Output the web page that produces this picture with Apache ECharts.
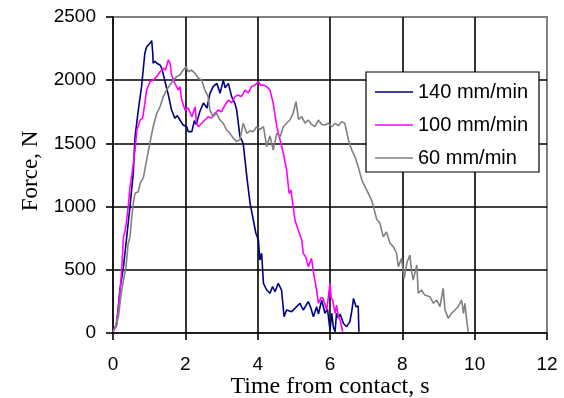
<!DOCTYPE html>
<html>
<head>
<meta charset="utf-8">
<script src="https://cdn.jsdelivr.net/npm/echarts@6/dist/echarts.min.js"></script>
<style>
  html, body { margin: 0; padding: 0; background: #fff; }
  #chart { width: 564px; height: 398px; }
</style>
</head>
<body>
<div id="chart"></div>
<script>
// Force vs. time for three crosshead speeds
const seriesNames = ['140 mm/min', '100 mm/min', '60 mm/min'];
const xTicks = [0, 2, 4, 6, 8, 10, 12];
const yTicks = [0, 500, 1000, 1500, 2000, 2500];

const t140 = [0, 0.1, 0.19, 0.29, 0.38, 0.47, 0.56, 0.61, 0.7, 0.79, 0.88, 0.93, 1.02, 1.07, 1.1, 1.11, 1.16, 1.21, 1.3, 1.35, 1.44, 1.53, 1.62, 1.71, 1.78, 1.85, 1.94, 2.04, 2.08, 2.18, 2.25, 2.3, 2.4, 2.5, 2.6, 2.68, 2.77, 2.87, 2.96, 3.05, 3.1, 3.19, 3.28, 3.37, 3.42, 3.51, 3.6, 3.65, 3.7, 3.79, 3.88, 3.95, 4.02, 4.06, 4.11, 4.16, 4.25, 4.34, 4.41, 4.48, 4.57, 4.66, 4.73, 4.8, 4.94, 5.03, 5.17, 5.26, 5.4, 5.47, 5.54, 5.63, 5.68, 5.77, 5.86, 5.93, 6.0, 6.05, 6.09, 6.14, 6.18, 6.23, 6.28, 6.37, 6.46, 6.55, 6.6, 6.65, 6.72, 6.78, 6.8];
const f140 = [10, 63, 340, 525, 762, 1000, 1263, 1553, 1764, 1949, 2213, 2265, 2292, 2313, 2213, 2134, 2150, 2134, 2120, 2094, 1988, 1883, 1764, 1699, 1720, 1685, 1646, 1632, 1593, 1593, 1680, 1650, 1750, 1820, 1780, 1896, 1949, 1975, 1896, 2001, 1940, 1975, 1870, 1817, 1764, 1553, 1500, 1369, 1237, 1026, 894, 789, 736, 578, 631, 393, 340, 314, 366, 327, 393, 340, 129, 182, 169, 195, 235, 182, 248, 200, 129, 208, 150, 261, 156, 190, 24, 156, 50, 10, 156, 120, 150, 77, 50, 90, 169, 274, 208, 214, 10];

const t100 = [0, 0.08, 0.15, 0.24, 0.29, 0.33, 0.38, 0.42, 0.47, 0.52, 0.61, 0.66, 0.75, 0.82, 0.88, 0.93, 1.02, 1.11, 1.21, 1.3, 1.39, 1.45, 1.53, 1.58, 1.62, 1.71, 1.81, 1.85, 1.9, 1.99, 2.08, 2.18, 2.27, 2.31, 2.36, 2.45, 2.54, 2.63, 2.72, 2.82, 2.91, 3.0, 3.1, 3.19, 3.28, 3.37, 3.46, 3.55, 3.65, 3.74, 3.83, 3.93, 4.02, 4.08, 4.16, 4.25, 4.34, 4.39, 4.43, 4.53, 4.62, 4.71, 4.8, 4.87, 4.92, 4.98, 5.03, 5.12, 5.22, 5.26, 5.33, 5.4, 5.49, 5.54, 5.63, 5.68, 5.75, 5.81, 5.91, 5.96, 6.0, 6.03, 6.07, 6.14, 6.18, 6.23, 6.28, 6.35];
const f100 = [10, 60, 182, 498, 762, 801, 894, 1000, 1157, 1250, 1448, 1606, 1685, 1700, 1817, 1922, 1988, 2001, 2028, 2067, 2094, 2080, 2160, 2134, 2041, 1975, 1922, 1950, 1843, 1764, 1780, 1711, 1790, 1659, 1632, 1659, 1685, 1711, 1700, 1738, 1764, 1750, 1804, 1843, 1820, 1870, 1883, 1870, 1922, 1900, 1949, 1962, 1988, 1960, 1962, 1949, 1922, 1909, 1817, 1632, 1527, 1422, 1290, 1105, 1130, 1000, 894, 815, 736, 631, 600, 525, 591, 485, 340, 235, 280, 274, 182, 300, 393, 280, 261, 156, 221, 130, 103, 10];

const t60 = [0, 0.08, 0.15, 0.22, 0.29, 0.36, 0.42, 0.47, 0.52, 0.56, 0.61, 0.7, 0.75, 0.84, 0.93, 1.02, 1.11, 1.21, 1.3, 1.39, 1.48, 1.57, 1.67, 1.76, 1.85, 1.94, 2.02, 2.08, 2.17, 2.27, 2.36, 2.45, 2.54, 2.63, 2.68, 2.77, 2.86, 2.96, 3.05, 3.14, 3.23, 3.33, 3.42, 3.51, 3.6, 3.7, 3.79, 3.88, 3.97, 4.06, 4.16, 4.25, 4.34, 4.43, 4.53, 4.62, 4.71, 4.8, 4.89, 4.98, 5.06, 5.13, 5.22, 5.31, 5.4, 5.49, 5.58, 5.68, 5.77, 5.86, 5.95, 6.05, 6.14, 6.23, 6.32, 6.41, 6.51, 6.6, 6.69, 6.78, 6.88, 6.97, 7.06, 7.15, 7.2, 7.29, 7.38, 7.47, 7.56, 7.66, 7.75, 7.84, 7.89, 7.98, 8.05, 8.13, 8.21, 8.26, 8.3, 8.4, 8.44, 8.53, 8.62, 8.76, 8.86, 8.95, 9.04, 9.13, 9.18, 9.27, 9.36, 9.45, 9.54, 9.64, 9.69, 9.73, 9.78, 9.82];
const f60 = [10, 60, 129, 300, 419, 525, 710, 760, 920, 1026, 1105, 1118, 1184, 1230, 1369, 1501, 1632, 1738, 1790, 1870, 1922, 1960, 2001, 2028, 2041, 2081, 2107, 2067, 2080, 2054, 2015, 2001, 1922, 1870, 1764, 1711, 1740, 1685, 1659, 1606, 1580, 1540, 1514, 1530, 1659, 1580, 1600, 1593, 1632, 1610, 1632, 1474, 1560, 1448, 1580, 1553, 1632, 1659, 1685, 1738, 1830, 1690, 1711, 1660, 1685, 1650, 1632, 1685, 1650, 1646, 1660, 1632, 1659, 1640, 1672, 1659, 1527, 1448, 1395, 1316, 1210, 1157, 1105, 1052, 1000, 900, 868, 762, 800, 710, 683, 631, 525, 591, 433, 560, 617, 480, 419, 538, 314, 340, 300, 287, 235, 260, 208, 353, 182, 116, 156, 180, 208, 261, 156, 235, 103, 10];

const colors = ['#000080', '#ff00ff', '#808080'];

function pairs(ts, fs) {
  return ts.map((t, i) => [t, fs[i]]);
}

const sansFont = '"Liberation Sans", Arial, sans-serif';
const serifFont = '"Liberation Serif", "Times New Roman", serif';

const axisCommon = {
  type: 'value',
  axisLine: { show: true, lineStyle: { color: '#000', width: 1.6 } },
  axisTick: { show: true, inside: false, length: 7, lineStyle: { color: '#000', width: 1.6 } },
  splitLine: { show: true, showMinLine: false, showMaxLine: false, lineStyle: { color: '#000', width: 1.6 } },
  nameLocation: 'middle',
  nameMoveOverlap: false
};

const chart = echarts.init(document.getElementById('chart'), null, { renderer: 'canvas' });

chart.setOption({
  animation: false,
  backgroundColor: '#fff',
  color: colors,
  grid: {
    left: 113, right: 17, top: 17, bottom: 65,
    containLabel: false, outerBoundsMode: 'none',
    show: true, borderColor: '#808080', borderWidth: 2, backgroundColor: 'transparent'
  },
  xAxis: Object.assign({}, axisCommon, {
    min: xTicks[0], max: xTicks[xTicks.length - 1], interval: xTicks[1] - xTicks[0],
    axisLabel: { color: '#000', fontSize: 19, fontFamily: sansFont, margin: 22, formatter: v => String(v) },
    name: 'Time from contact, s',
    nameGap: 42,
    nameTextStyle: { color: '#000', fontSize: 24, fontFamily: serifFont }
  }),
  yAxis: Object.assign({}, axisCommon, {
    min: yTicks[0], max: yTicks[yTicks.length - 1], interval: yTicks[1] - yTicks[0],
    axisLabel: { color: '#000', fontSize: 19, fontFamily: sansFont, margin: 17, formatter: v => String(v) },
    name: 'Force, N',
    nameGap: 71,
    nameTextStyle: { color: '#000', fontSize: 23, fontFamily: serifFont, padding: [0, 0, 0, 8] }
  }),
  legend: {
    orient: 'vertical',
    left: 366, top: 72,
    padding: [10, 6, 4, 9],
    icon: 'rect',
    itemWidth: 38, itemHeight: 1.6, itemGap: 13,
    backgroundColor: '#fff',
    borderColor: '#000', borderWidth: 1.2,
    textStyle: { color: '#000', fontSize: 20, fontFamily: sansFont, width: 115, lineHeight: 20 },
    data: seriesNames
  },
  series: [
    { name: seriesNames[0], type: 'line', symbol: 'none', data: pairs(t140, f140), lineStyle: { width: 1.6, color: colors[0] }, itemStyle: { color: colors[0] } },
    { name: seriesNames[1], type: 'line', symbol: 'none', data: pairs(t100, f100), lineStyle: { width: 1.6, color: colors[1] }, itemStyle: { color: colors[1] } },
    { name: seriesNames[2], type: 'line', symbol: 'none', data: pairs(t60, f60), lineStyle: { width: 1.6, color: colors[2] }, itemStyle: { color: colors[2] } }
  ]
});
</script>
</body>
</html>
